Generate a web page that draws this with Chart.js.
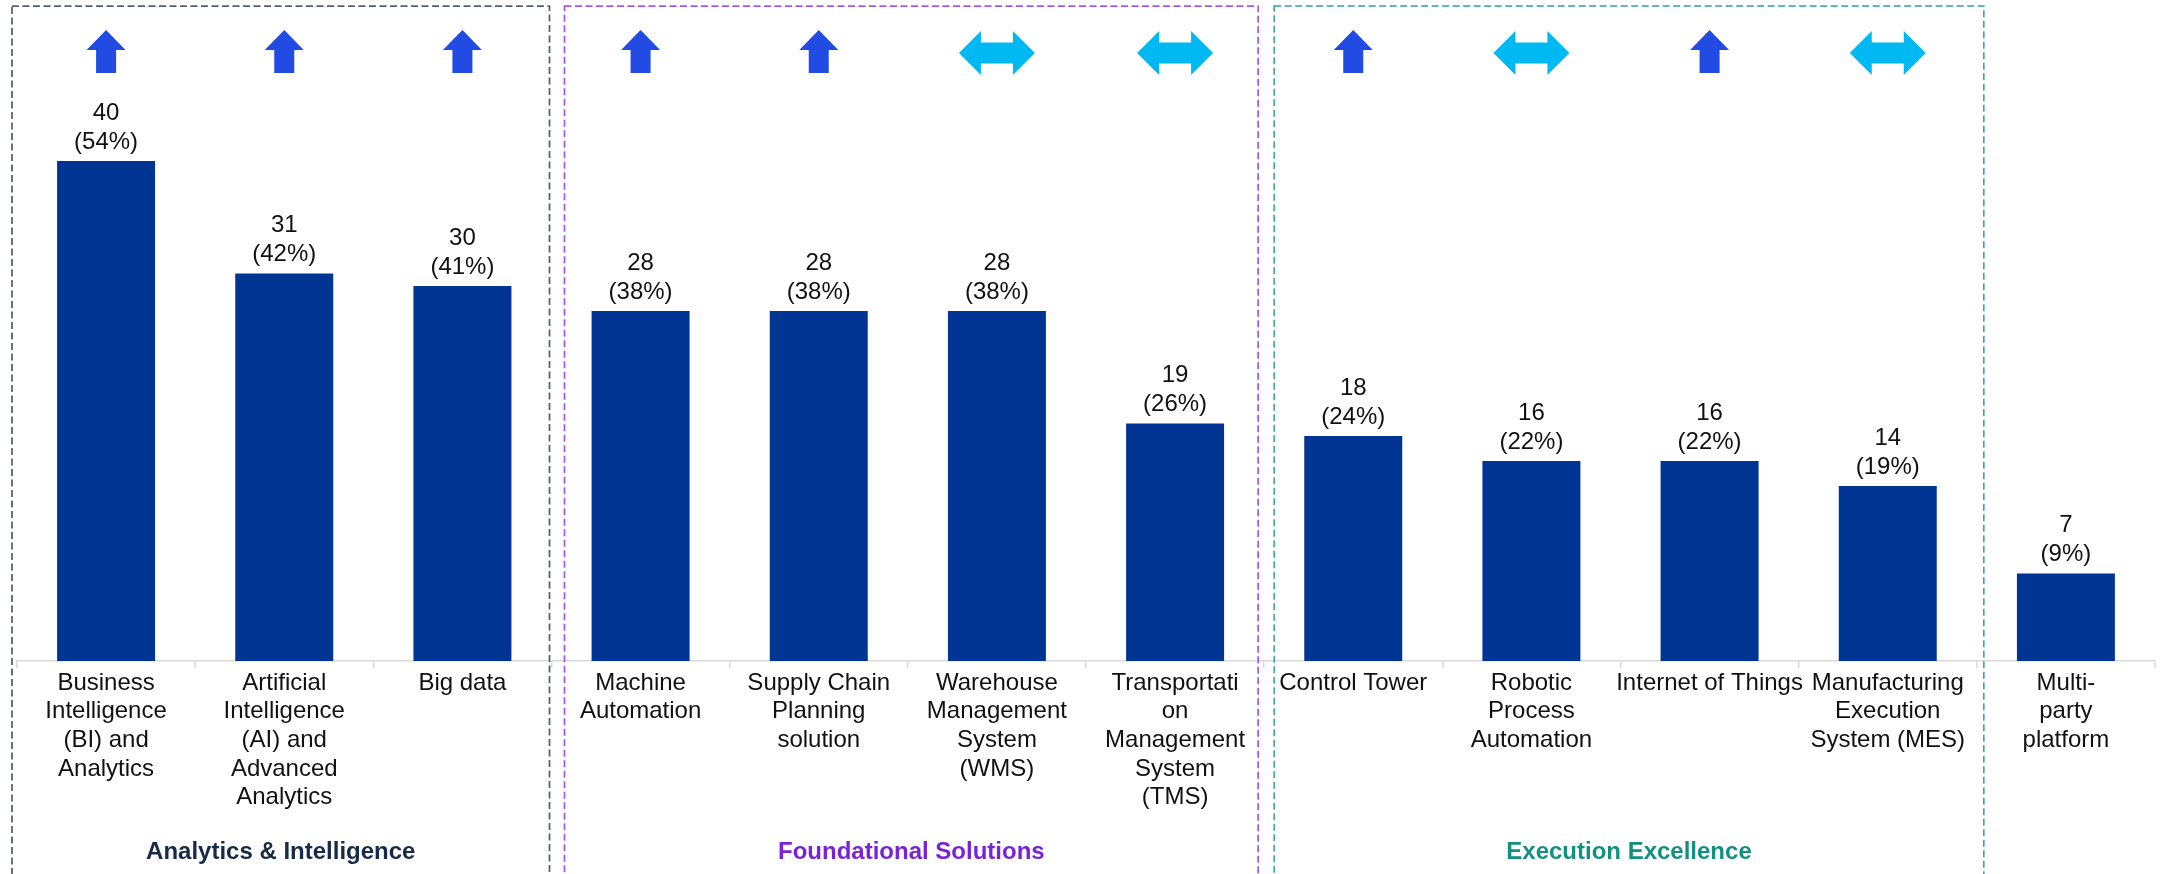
<!DOCTYPE html>
<html>
<head>
<meta charset="utf-8">
<title>Technology adoption</title>
<script src="https://cdn.jsdelivr.net/npm/chart.js@4.4.1/dist/chart.umd.min.js"></script>
<style>
  html, body { margin: 0; padding: 0; background: #ffffff; }
  #wrap { width: 2160px; height: 874px; }
</style>
</head>
<body>
<div id="wrap"><canvas id="techChart" width="2160" height="874"></canvas></div>
<script>
const categories = [
    ['Business', 'Intelligence', '(BI) and', 'Analytics'],
    ['Artificial', 'Intelligence', '(AI) and', 'Advanced', 'Analytics'],
    ['Big data'],
    ['Machine', 'Automation'],
    ['Supply Chain', 'Planning', 'solution'],
    ['Warehouse', 'Management', 'System', '(WMS)'],
    ['Transportati', 'on', 'Management', 'System', '(TMS)'],
    ['Control Tower'],
    ['Robotic', 'Process', 'Automation'],
    ['Internet of Things'],
    ['Manufacturing', 'Execution', 'System (MES)'],
    ['Multi-', 'party', 'platform']
];
const counts = [40, 31, 30, 28, 28, 28, 19, 18, 16, 16, 14, 7];
const shares = [54, 42, 41, 38, 38, 38, 26, 24, 22, 22, 19, 9];
// 'up' = increasing, 'flat' = unchanged, null = no indicator
const trends = ['up', 'up', 'up', 'up', 'up', 'flat', 'flat', 'up', 'flat', 'up', 'flat', null];
const groupNames = ['Analytics & Intelligence', 'Foundational Solutions', 'Execution Excellence'];
const groupFirst = [0, 3, 7];
const groupLast = [2, 6, 10];

const FONT = '"Liberation Sans", Arial, sans-serif';

// dashed frame per group: stroke, text colour, inset of left/right edge from the category bounds
const groupStyles = [
    { stroke: '#56606e', text: '#172a46', width: 1.75, inset: [-5, -2] },
    { stroke: '#a259f0', text: '#7a22d6', width: 1.75, inset: [13, -6] },
    { stroke: '#2ea395', text: '#13907f', width: 1.5, inset: [10, 7] }
];

const groupFrames = {
    id: 'groupFrames',
    beforeDatasetsDraw(chart) {
        const { ctx, scales: { x } } = chart;
        const step = x.getPixelForValue(1) - x.getPixelForValue(0);
        const top = 6, bottom = 890;
        ctx.save();
        groupNames.forEach((name, g) => {
            const s = groupStyles[g];
            const left = x.getPixelForValue(groupFirst[g]) - step / 2 + s.inset[0];
            const right = x.getPixelForValue(groupLast[g]) + step / 2 + s.inset[1];
            ctx.strokeStyle = s.stroke;
            ctx.lineWidth = s.width;
            ctx.setLineDash([7, 3.5]);
            ctx.strokeRect(left, top, right - left, bottom - top);

            ctx.setLineDash([]);
            ctx.fillStyle = s.text;
            ctx.font = 'bold 24px ' + FONT;
            ctx.textAlign = 'center';
            ctx.textBaseline = 'middle';
            ctx.fillText(name, (left + right) / 2, 852);
        });
        ctx.restore();
    }
};

function upArrow(ctx, cx) {
    ctx.beginPath();
    ctx.moveTo(cx, 30);
    ctx.lineTo(cx + 19.5, 50);
    ctx.lineTo(cx + 10, 50);
    ctx.lineTo(cx + 10, 73);
    ctx.lineTo(cx - 10, 73);
    ctx.lineTo(cx - 10, 50);
    ctx.lineTo(cx - 19.5, 50);
    ctx.closePath();
    ctx.fillStyle = '#214be3';
    ctx.fill();
}

function sideArrow(ctx, cx) {
    const cy = 53, half = 38, head = 22;
    ctx.beginPath();
    ctx.moveTo(cx - half, cy);
    ctx.lineTo(cx - half + head, cy - 22);
    ctx.lineTo(cx - half + head, cy - 10.5);
    ctx.lineTo(cx + half - head, cy - 10.5);
    ctx.lineTo(cx + half - head, cy - 22);
    ctx.lineTo(cx + half, cy);
    ctx.lineTo(cx + half - head, cy + 22);
    ctx.lineTo(cx + half - head, cy + 10.5);
    ctx.lineTo(cx - half + head, cy + 10.5);
    ctx.lineTo(cx - half + head, cy + 22);
    ctx.closePath();
    ctx.fillStyle = '#00b9f2';
    ctx.fill();
}

const barAnnotations = {
    id: 'barAnnotations',
    afterDatasetsDraw(chart) {
        const { ctx } = chart;
        const bars = chart.getDatasetMeta(0).data;
        ctx.save();
        ctx.font = '24px ' + FONT;
        ctx.textAlign = 'center';
        ctx.textBaseline = 'middle';
        bars.forEach((bar, i) => {
            ctx.fillStyle = '#111111';
            ctx.fillText(String(counts[i]), bar.x, bar.y - 48);
            ctx.fillText('(' + shares[i] + '%)', bar.x, bar.y - 19);
            if (trends[i] === 'up') upArrow(ctx, bar.x);
            else if (trends[i] === 'flat') sideArrow(ctx, bar.x);
        });
        ctx.restore();
    }
};

const ctx = document.getElementById('techChart').getContext('2d');
new Chart(ctx, {
    type: 'bar',
    data: {
        labels: categories,
        datasets: [{
            data: counts,
            backgroundColor: '#003594',
            barPercentage: 0.55,
            categoryPercentage: 1.0
        }]
    },
    options: {
        responsive: false,
        animation: false,
        devicePixelRatio: 1,
        layout: { padding: { top: 11, left: 17, right: 5, bottom: 0 } },
        plugins: {
            legend: { display: false },
            tooltip: { enabled: false }
        },
        scales: {
            x: {
                grid: {
                    drawOnChartArea: false,
                    drawTicks: true,
                    tickLength: 7,
                    color: '#d9d9d9',
                    lineWidth: 1.5
                },
                border: { display: true, color: '#d9d9d9', width: 1.5 },
                ticks: {
                    color: '#111111',
                    padding: 1,
                    maxRotation: 0,
                    autoSkip: false,
                    font: { family: FONT, size: 24, lineHeight: 1.19 }
                },
                afterFit(axis) { axis.height = 213; }
            },
            y: {
                display: false,
                min: 0,
                max: 52
            }
        }
    },
    plugins: [groupFrames, barAnnotations]
});
</script>
</body>
</html>
